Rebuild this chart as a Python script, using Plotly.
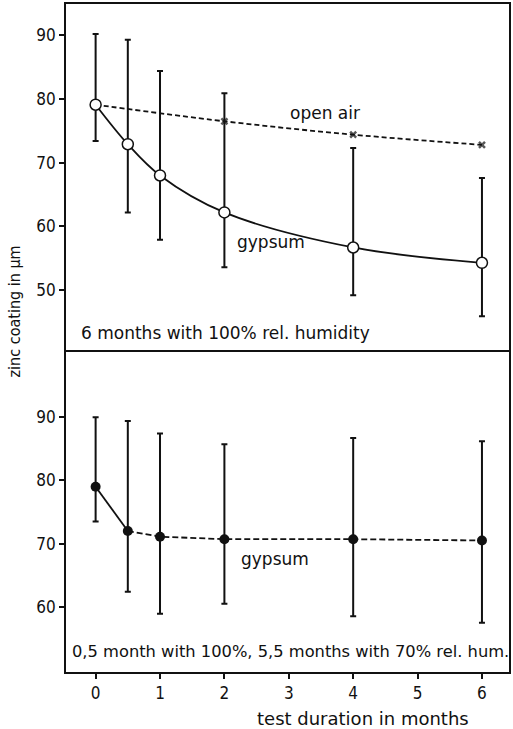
import plotly.graph_objects as go

# ---------------- data ----------------
months = [0, 0.5, 1, 2, 4, 6]
# top panel: 6 months with 100% rel. humidity
gyp_top = [79.1, 72.9, 68.0, 62.2, 56.7, 54.3]
gyp_top_hi = [90.2, 89.3, 84.4, 80.9, 72.3, 67.6]
gyp_top_lo = [73.4, 62.2, 57.9, 53.6, 49.2, 45.9]

air_months = [0, 2, 4, 6]
open_air = [79.1, 76.5, 74.4, 72.8]

# bottom panel: 0,5 month with 100 %, 5,5 months with 70 % rel. hum.
gyp_bot = [79.0, 72.0, 71.1, 70.7, 70.7, 70.5]
gyp_bot_hi = [90.0, 89.4, 87.4, 85.7, 86.7, 86.2]
gyp_bot_lo = [73.5, 62.4, 58.9, 60.5, 58.5, 57.5]

x_ticks = [0, 1, 2, 3, 4, 5, 6]
y_ticks_top = [50, 60, 70, 80, 90]
y_ticks_bot = [60, 70, 80, 90]

FONT = "DejaVu Sans Condensed"
FONT_TXT = "DejaVu Sans"
BLACK = "#111111"

def err(vals, hi, lo):
    return dict(type="data", symmetric=False,
                array=[h - v for h, v in zip(hi, vals)],
                arrayminus=[v - l for v, l in zip(vals, lo)],
                color=BLACK, thickness=2, width=3)

fig = go.Figure()

# open air (top panel)
fig.add_trace(go.Scatter(
    x=air_months, y=open_air, xaxis="x2", yaxis="y2",
    mode="lines+markers", line=dict(color=BLACK, width=1.8, dash="5px,3px", shape="spline"),
    marker=dict(symbol="x-thin", size=[0, 6, 6, 6], color=BLACK,
                line=dict(width=2.5, color=BLACK)),
    showlegend=False))

# gypsum (top panel)
fig.add_trace(go.Scatter(
    x=months, y=gyp_top, xaxis="x2", yaxis="y2",
    mode="lines+markers", line=dict(color=BLACK, width=1.8, shape="spline"),
    marker=dict(symbol="circle", size=11, color="white", line=dict(width=1.5, color=BLACK)),
    error_y=err(gyp_top, gyp_top_hi, gyp_top_lo),
    showlegend=False))

# gypsum (bottom panel): solid first segment, dashed afterwards
fig.add_trace(go.Scatter(
    x=months[:2], y=gyp_bot[:2], xaxis="x", yaxis="y",
    mode="lines", line=dict(color=BLACK, width=1.8), showlegend=False))
fig.add_trace(go.Scatter(
    x=months[1:], y=gyp_bot[1:], xaxis="x", yaxis="y",
    mode="lines", line=dict(color=BLACK, width=1.8, dash="6px,3px"), showlegend=False))
fig.add_trace(go.Scatter(
    x=months, y=gyp_bot, xaxis="x", yaxis="y",
    mode="markers",
    marker=dict(symbol="circle", size=10, color=BLACK),
    error_y=err(gyp_bot, gyp_bot_hi, gyp_bot_lo),
    showlegend=False))

axis_common = dict(showline=True, linecolor=BLACK, linewidth=1.8,
                   showgrid=False, zeroline=False, ticklen=5,
                   tickwidth=1.5, tickcolor=BLACK,
                   tickfont=dict(family=FONT, size=17, color=BLACK))

txt = dict(family=FONT_TXT, size=17, color=BLACK)

split = 0.479
fig.update_layout(
    width=513, height=729,
    margin=dict(l=66, r=2, t=4, b=57),
    paper_bgcolor="white", plot_bgcolor="white",
    font=dict(family=FONT, color=BLACK),
    xaxis=dict(range=[-0.46, 6.42], tickvals=x_ticks, anchor="y", ticks="outside",
               mirror=True, **axis_common),
    xaxis2=dict(range=[-0.46, 6.42], tickvals=x_ticks, anchor="y2", matches="x",
                side="top", mirror=False,
                showticklabels=False, ticks="", **axis_common),
    yaxis=dict(range=[49.7, 100.3], tickvals=y_ticks_bot, domain=[0, split], anchor="x",
               ticks="outside", mirror=True, **axis_common),
    yaxis2=dict(range=[40.3, 94.9], tickvals=y_ticks_top, domain=[split, 1], anchor="x2",
                ticks="outside", mirror=True, **axis_common),
    annotations=[
        dict(text="open air", x=3.56, y=77.8, xref="x2", yref="y2", showarrow=False,
             xanchor="center", yanchor="middle", font=txt),
        dict(text="gypsum", x=2.72, y=57.6, xref="x2", yref="y2", showarrow=False,
             xanchor="center", yanchor="middle", font=txt),
        dict(text="gypsum", x=2.78, y=67.6, xref="x", yref="y", showarrow=False,
             xanchor="center", yanchor="middle", font=txt),
        dict(text="6 months with 100% rel. humidity", x=0.03, y=43.3, xref="paper", yref="y2",
             xanchor="left", yanchor="middle", showarrow=False, font=txt),
        dict(text="0,5 month with 100%, 5,5 months with 70% rel. hum.", x=0.008, y=52.9,
             xref="paper", yref="y", xanchor="left", yanchor="middle", showarrow=False,
             font=dict(family=FONT_TXT, size=16.3, color=BLACK)),
        dict(text="test duration in months", x=0.67, y=-0.069, xref="paper", yref="paper",
             xanchor="center", yanchor="middle", showarrow=False,
             font=dict(family=FONT_TXT, size=18, color=BLACK)),
        dict(text="zinc coating in µm", x=-0.117, y=0.54, xref="paper", yref="paper",
             xanchor="center", yanchor="middle",
             textangle=-90, showarrow=False, font=dict(family=FONT, size=16, color=BLACK)),
    ],
)

fig.write_html("out.html")
